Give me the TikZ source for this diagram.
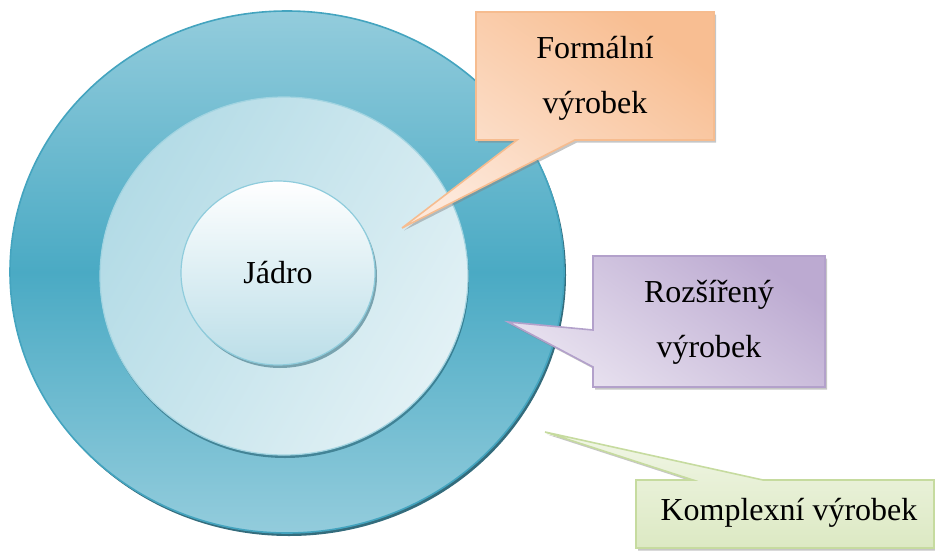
\documentclass[tikz,border=0pt]{standalone}
\usepackage{fontspec}
\setmainfont{Liberation Serif}
\usetikzlibrary{shapes.geometric,shadows}

\definecolor{ringtop}{HTML}{93CCDC}
\definecolor{ringmid}{HTML}{4AAAC4}
\definecolor{ringedge}{HTML}{44A4BF}
\definecolor{ringshade}{HTML}{1E5C6E}
\definecolor{midlight}{HTML}{E2F1F5}
\definecolor{middark}{HTML}{B3DBE6}
\definecolor{midedge}{HTML}{A2D4E1}
\definecolor{coreedge}{HTML}{8FCCDC}
\definecolor{corebot}{HTML}{BBDEE8}
\definecolor{formdark}{HTML}{F8BE92}
\definecolor{formlight}{HTML}{FDE8DA}
\definecolor{formedge}{HTML}{F6BC8F}
\definecolor{rozdark}{HTML}{BCAAD1}
\definecolor{rozlight}{HTML}{E9E3F0}
\definecolor{rozedge}{HTML}{B3A1CB}
\definecolor{kompdark}{HTML}{DCE9C3}
\definecolor{komplight}{HTML}{F1F6E6}
\definecolor{kompedge}{HTML}{C6DB9F}

\begin{document}
\begin{tikzpicture}[x=1pt, y=-1pt,
    every node/.style={font=\fontsize{32}{55}\selectfont, align=center},
    ring/.style={ellipse, draw, line width=1.2pt, inner sep=0pt},
    callout/.style={draw, line width=1.6pt, line join=miter,
        drop shadow={shadow xshift=2pt, shadow yshift=-2.5pt, opacity=0.45}}]

    \useasboundingbox (0,0) rectangle (935,552);

    % soustředné kruhy
    \node[ring, draw=ringedge, line width=1.6pt, top color=ringtop, bottom color=ringtop, middle color=ringmid,
        minimum width=554, minimum height=522,
        drop shadow={shadow xshift=2pt, shadow yshift=-3pt, opacity=0.9, fill=ringshade}]
        (outer) at (287,272) {};
    \node[ring, draw=midedge, left color=middark, right color=midlight, shading angle=60,
        minimum width=368, minimum height=358,
        drop shadow={shadow xshift=1pt, shadow yshift=-3pt, opacity=0.6, fill=ringshade}]
        (middle) at (284,276) {};
    \node[ring, draw=coreedge, top color=white, bottom color=corebot,
        minimum width=194, minimum height=184,
        drop shadow={shadow xshift=2pt, shadow yshift=-3pt, opacity=0.5, fill=ringshade}]
        (core) at (278,273) {Jádro};

    % hroty bublin
    \coordinate (formtip) at (402,228);
    \coordinate (roztip) at (508,322);
    \coordinate (komptip) at (545,432);

    % bublina: Formální výrobek
    \draw[callout, draw=formedge, left color=formlight, middle color=formlight, right color=formdark, shading angle=145]
        (476,12) -- (714,12) -- (714,140) -- (575,140) -- (formtip) -- (517,140) -- (476,140) -- cycle;
    \node (form) at (595,78) {Formální\\výrobek};

    % bublina: Rozšířený výrobek
    \draw[callout, draw=rozedge, left color=rozlight, middle color=rozlight, right color=rozdark, shading angle=145]
        (593,256) -- (825,256) -- (825,387) -- (593,387) -- (593,367) -- (roztip) -- (593,330) -- cycle;
    \node (roz) at (709,322) {Rozšířený\\výrobek};

    % bublina: Komplexní výrobek
    \draw[callout, draw=kompedge, top color=komplight, bottom color=kompdark]
        (636,480) -- (693,480) -- (komptip) -- (763,480) -- (934,480) -- (934,548) -- (636,548) -- cycle;
    \node (komp) at (789,513) {Komplexní výrobek};

\end{tikzpicture}
\end{document}
